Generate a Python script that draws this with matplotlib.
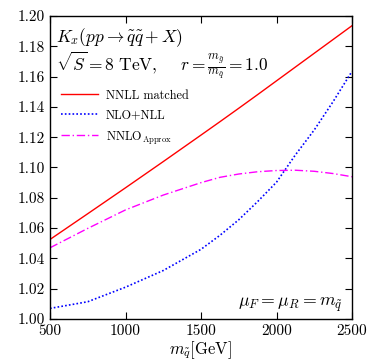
import matplotlib
matplotlib.use("Agg")
import matplotlib.pyplot as plt

plt.rcParams['font.family'] = 'serif'
plt.rcParams['font.serif'] = ['cmr10', 'DejaVu Serif']
plt.rcParams['mathtext.fontset'] = 'cm'
plt.rcParams['axes.unicode_minus'] = False
plt.rcParams['axes.formatter.use_mathtext'] = True

m = [500, 750, 1000, 1250, 1500, 1625, 1750, 1875, 2000, 2125, 2250, 2375, 2500]
nnll_matched = [1.0525, 1.0695, 1.0866, 1.1039, 1.1214, 1.1302, 1.1391, 1.1481, 1.1572, 1.1663, 1.1754, 1.1845, 1.1936]
nlo_nll = [1.007, 1.0114, 1.021, 1.032, 1.046, 1.0552, 1.0655, 1.0775, 1.0903, 1.1083, 1.1248, 1.1435, 1.1635]
nnlo_approx = [1.047, 1.0598, 1.072, 1.0818, 1.090, 1.0935, 1.0957, 1.0972, 1.098, 1.0982, 1.0975, 1.096, 1.0939]

xticks = [500, 1000, 1500, 2000, 2500]
yticks = [1.00, 1.02, 1.04, 1.06, 1.08, 1.10, 1.12, 1.14, 1.16, 1.18, 1.20]

fig = plt.figure(figsize=(3.74, 3.63), dpi=100)
ax = fig.add_axes([50/374, 1 - 319/363, 302/374, 303/363])

ax.plot(m, nnll_matched, color='red', lw=1.0, label='NNLL matched')
ax.plot(m, nlo_nll, color='blue', lw=1.2, ls=(0, (1, 1.3)), label='NLO+NLL')
ax.plot(m, nnlo_approx, color='magenta', lw=1.0, ls=(0, (6, 2, 1, 2)), label=r'NNLO$_{\mathrm{Approx}}$')

ax.set_xlim(500, 2500)
ax.set_ylim(1.0, 1.2)
ax.set_xticks(xticks)
ax.set_yticks(yticks)
ax.set_yticklabels([f"{v:.2f}" for v in yticks])
ax.set_xticklabels([str(v) for v in xticks])
ax.tick_params(direction='in', top=True, right=True, length=5, width=0.8, labelsize=11)
for s in ax.spines.values():
    s.set_linewidth(1.0)

ax.set_xlabel(r'$m_{\tilde{q}}$[GeV]', fontsize=12, labelpad=1)

ax.text(0.02, 0.93, r'$K_x(pp \to \tilde{q}\tilde{q} + X)$', transform=ax.transAxes,
        fontsize=12.5, va='center', ha='left')
ax.text(0.02, 0.835, r'$\sqrt{S} = 8\ \mathrm{TeV},\quad\ r = \frac{m_{\tilde{g}}}{m_{\tilde{q}}} = 1.0$',
        transform=ax.transAxes, fontsize=12.5, va='center', ha='left')
ax.text(0.97, 0.045, r'$\mu_F = \mu_R = m_{\tilde{q}}$', transform=ax.transAxes,
        fontsize=12.8, va='center', ha='right')

ax.legend(loc='upper left', bbox_to_anchor=(0.005, 0.79), frameon=False, fontsize=8.8,
          handlelength=3.0, handletextpad=0.65, labelspacing=0.62, borderpad=0.3)

fig.savefig('out.png', dpi=100)
